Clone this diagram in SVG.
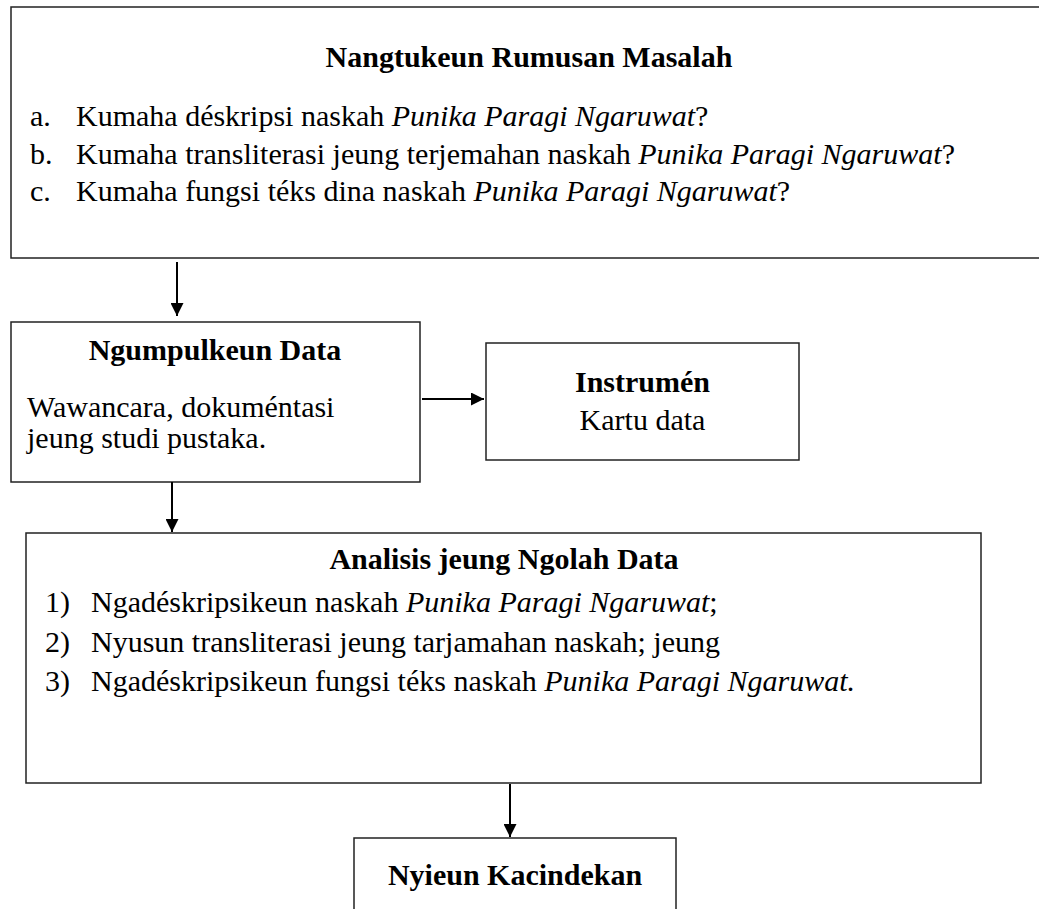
<svg xmlns="http://www.w3.org/2000/svg" width="1039" height="909" viewBox="0 0 1039 909">
<style>
.box{fill:#fff;stroke:#222;stroke-width:1.5}
text{font-family:"Liberation Serif","Times New Roman",serif;font-size:30px;fill:#000}
.b{font-weight:bold}
.c{text-anchor:middle}
.i{font-style:italic}
.conn{stroke:#000;stroke-width:2;fill:none}
</style>
<defs>
<marker id="ah" markerUnits="userSpaceOnUse" viewBox="0 0 13 13" refX="13" refY="6.5" markerWidth="13" markerHeight="13" orient="auto">
<path d="M0,0 L13,6.5 L0,13 z" fill="#000"/>
</marker>
</defs>
<rect width="1039" height="909" fill="#fff"/>
<g id="rumusan">
<rect class="box" x="11" y="7" width="1040" height="251"/>
<text class="b c" x="529" y="67">Nangtukeun Rumusan Masalah</text>
<text x="30" y="126">a.</text>
<text x="76" y="126">Kumaha déskripsi naskah <tspan class="i">Punika Paragi Ngaruwat</tspan>?</text>
<text x="30" y="164">b.</text>
<text x="76" y="164">Kumaha transliterasi jeung terjemahan naskah <tspan class="i">Punika Paragi Ngaruwat</tspan>?</text>
<text x="30" y="201">c.</text>
<text x="76" y="201">Kumaha fungsi téks dina naskah <tspan class="i">Punika Paragi Ngaruwat</tspan>?</text>
</g>
<g id="ngumpulkeun">
<rect class="box" x="11" y="322" width="409" height="160"/>
<text class="b c" x="215" y="360">Ngumpulkeun Data</text>
<text x="27" y="417">Wawancara, dokuméntasi</text>
<text x="27" y="448">jeung studi pustaka.</text>
</g>
<g id="instrumen">
<rect class="box" x="486" y="343" width="313" height="117"/>
<text class="b c" x="642.5" y="392">Instrumén</text>
<text class="c" x="642.5" y="430">Kartu data</text>
</g>
<g id="analisis">
<rect class="box" x="26" y="533" width="955" height="250"/>
<text class="b c" x="504" y="569">Analisis jeung Ngolah Data</text>
<text x="45" y="612">1)</text>
<text x="91" y="612">Ngadéskripsikeun naskah <tspan class="i">Punika Paragi Ngaruwat</tspan>;</text>
<text x="45" y="652">2)</text>
<text x="91" y="652">Nyusun transliterasi jeung tarjamahan naskah; jeung</text>
<text x="45" y="691">3)</text>
<text x="91" y="691">Ngadéskripsikeun fungsi téks naskah <tspan class="i">Punika Paragi Ngaruwat.</tspan></text>
</g>
<g id="kacindekan">
<rect class="box" x="354" y="838" width="322" height="90"/>
<text class="b c" x="515" y="885">Nyieun Kacindekan</text>
</g>
<g id="connectors">
<line class="conn" x1="177" y1="262" x2="177" y2="316" marker-end="url(#ah)"/>
<line class="conn" x1="422" y1="399" x2="484" y2="399" marker-end="url(#ah)"/>
<line class="conn" x1="172" y1="482" x2="172" y2="532" marker-end="url(#ah)"/>
<line class="conn" x1="510" y1="784" x2="510" y2="837" marker-end="url(#ah)"/>
</g>
</svg>
